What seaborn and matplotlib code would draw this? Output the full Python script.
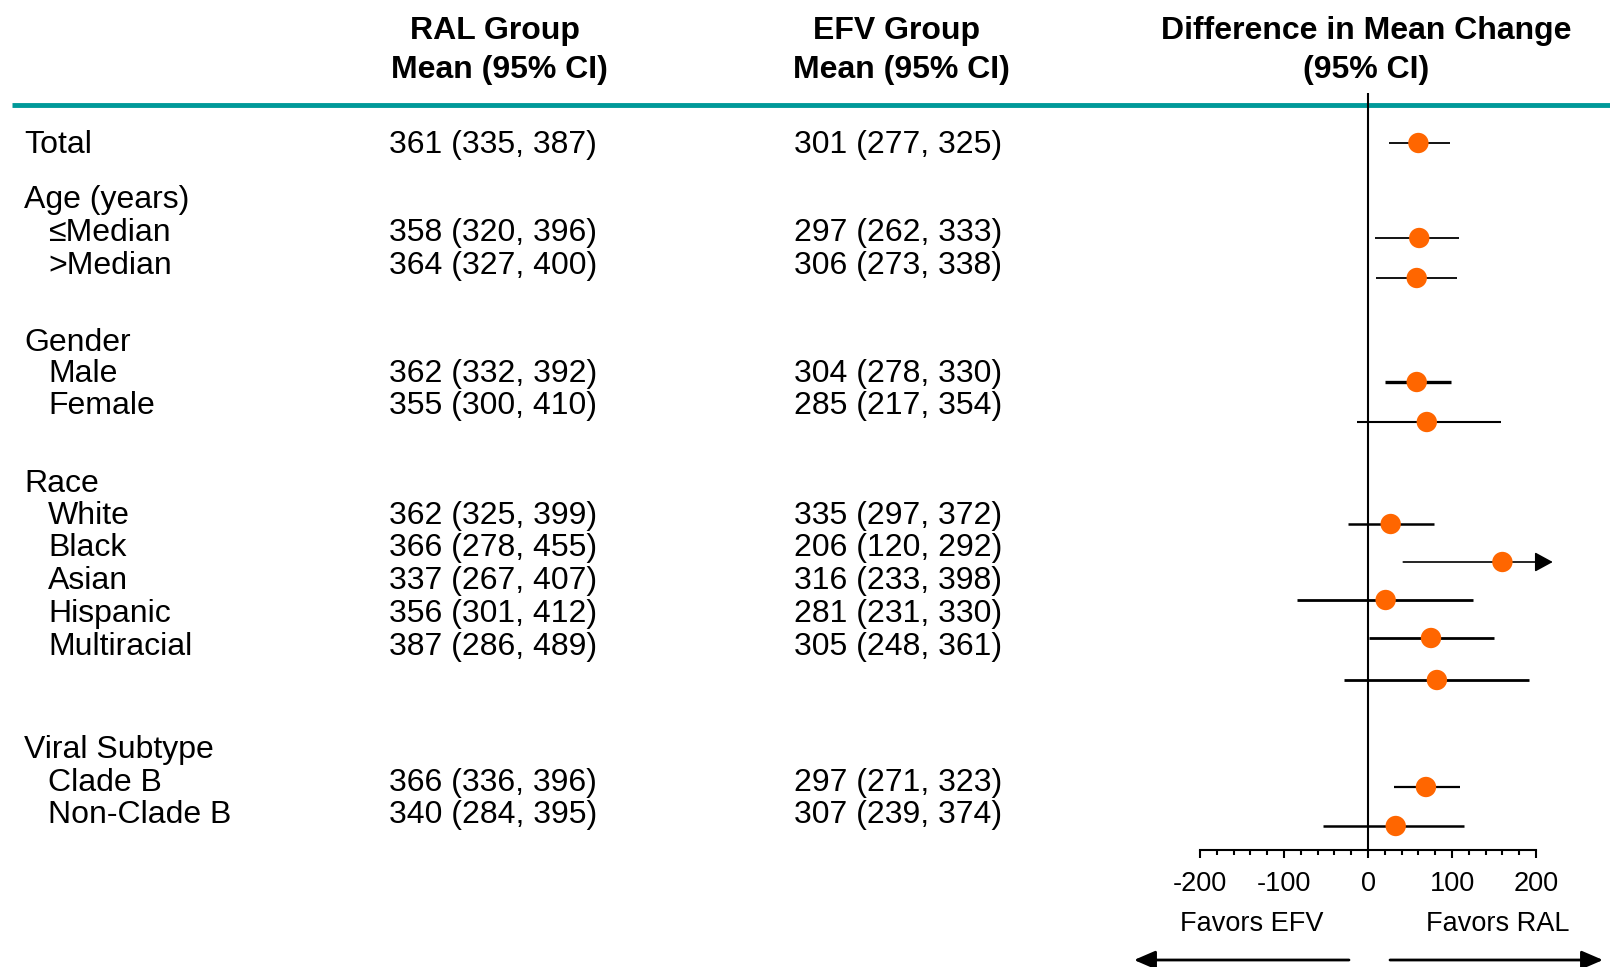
import matplotlib
matplotlib.use("Agg")
import matplotlib.pyplot as plt
import seaborn as sns
import pandas as pd

# ---- data -------------------------------------------------------------
subgroups = ["Total", "\u2264Median", ">Median", "Male", "Female", "White", "Black",
             "Asian", "Hispanic", "Multiracial", "Clade B", "Non-Clade B"]
group_titles = ["Age (years)", "Gender", "Race", "Viral Subtype"]

ral_mean = [361, 358, 364, 362, 355, 362, 366, 337, 356, 387, 366, 340]
ral_lo = [335, 320, 327, 332, 300, 325, 278, 267, 301, 286, 336, 284]
ral_hi = [387, 396, 400, 392, 410, 399, 455, 407, 412, 489, 396, 395]

efv_mean = [301, 297, 306, 304, 285, 335, 206, 316, 281, 305, 297, 307]
efv_lo = [277, 262, 273, 278, 217, 297, 120, 233, 231, 248, 271, 239]
efv_hi = [325, 333, 338, 330, 354, 372, 292, 398, 330, 361, 323, 374]

diff = [60, 61, 58, 58, 70, 27, 160, 21, 75, 82, 69, 33]
diff_lo = [25, 8, 9, 20, -13, -24, 42, -85, 1, -28, 31, -54]
diff_hi = [98, 108, 106, 99, 158, 79, 220, 125, 150, 192, 110, 114]
diff_hi_offscale = [False, False, False, False, False, False, True,
                    False, False, False, False, False]

header_cols = ["RAL Group\nMean (95% CI)", "EFV Group\nMean (95% CI)",
               "Difference in Mean Change\n(95% CI)"]
x_ticks = [-200, -100, 0, 100, 200]
favors = ["Favors EFV", "Favors RAL"]

# ---- layout (figure pixel units) ---------------------------------------
W, H = 1610, 967
text_y = [145, 233, 266, 374, 406, 516, 548, 581, 614, 647, 783, 815]
title_y = [200, 343, 484, 750]
forest_y = [143, 238, 278, 382, 422, 524, 562, 600, 638, 680, 787, 826]
ci_lw = [1.3, 1.3, 1.3, 2.4, 1.5, 1.8, 1.2, 2.0, 2.0, 2.0, 1.6, 1.8]

sns.set_theme(style="white")
plt.rcParams["font.family"] = ["Liberation Sans", "DejaVu Sans"]
plt.rcParams["text.color"] = "black"
plt.rcParams["xtick.color"] = "black"
plt.rcParams["xtick.labelcolor"] = "black"

TEAL = "#009999"
ORANGE = "#FF6600"
BODY = 23
HEAD = 23

fig = plt.figure(figsize=(W / 100, H / 100), dpi=100)
fig.patch.set_facecolor("white")

# text layer in pixel coordinates
ax_t = fig.add_axes([0, 0, 1, 1])
ax_t.set_xlim(0, W)
ax_t.set_ylim(H, 0)
ax_t.axis("off")

# column headers
head_x = [(495, 499), (897, 901), (1366, 1366)]
for txt, (x1, x2) in zip(header_cols, head_x):
    l1, l2 = txt.split("\n")
    ax_t.text(x1, 31, l1, ha="center", va="center", fontsize=HEAD, fontweight="bold")
    ax_t.text(x2, 70, l2, ha="center", va="center", fontsize=HEAD, fontweight="bold")

ax_t.hlines(105, 12, W, color=TEAL, lw=3.5)

# group titles and subgroup rows
for t, y in zip(group_titles, title_y):
    ax_t.text(24, y, t, ha="left", va="center", fontsize=BODY)

for i, (name, y) in enumerate(zip(subgroups, text_y)):
    x0 = 24 if i == 0 else 48
    ax_t.text(x0, y, name, ha="left", va="center", fontsize=BODY)
    ax_t.text(389, y, f"{ral_mean[i]} ({ral_lo[i]}, {ral_hi[i]})",
              ha="left", va="center", fontsize=BODY)
    ax_t.text(794, y, f"{efv_mean[i]} ({efv_lo[i]}, {efv_hi[i]})",
              ha="left", va="center", fontsize=BODY)

# ---- forest plot ------------------------------------------------------
ax_f = fig.add_axes([1200 / W, 0, 336 / W, 1])
ax_f.set_xlim(-200, 200)
ax_f.set_ylim(H, 0)
ax_f.patch.set_alpha(0)
for s in ["top", "right", "left"]:
    ax_f.spines[s].set_visible(False)
ax_f.spines["bottom"].set_position(("data", 850))
ax_f.spines["bottom"].set_linewidth(1.5)
ax_f.spines["bottom"].set_color("black")
ax_f.set_yticks([])
ax_f.set_xticks(x_ticks)
ax_f.set_xticks(range(-200, 201, 20), minor=True)
ax_f.set_xticklabels([str(v) for v in x_ticks])
ax_f.tick_params(axis="x", which="major", direction="out", length=6, width=1.5,
                 labelsize=19.5, pad=9, bottom=True, color="black")
ax_f.tick_params(axis="x", which="minor", direction="out", length=3.5, width=1.5,
                 bottom=True, color="black")

ax_f.vlines(0, 93, 850, color="black", lw=1.5, zorder=2)

df = pd.DataFrame({"diff": diff, "lo": diff_lo, "hi": diff_hi,
                   "y": forest_y, "off": diff_hi_offscale, "lw": ci_lw})
for _, r in df.iterrows():
    if r["off"]:
        ax_f.annotate("", xy=(r["hi"], r["y"]), xytext=(r["lo"], r["y"]),
                      xycoords="data", annotation_clip=False,
                      arrowprops=dict(arrowstyle="-|>,head_length=0.55,head_width=0.3",
                                      lw=r["lw"], color="black", mutation_scale=20,
                                      shrinkA=0, shrinkB=0), zorder=3)
    else:
        ax_f.hlines(r["y"], r["lo"], r["hi"], color="black", lw=r["lw"], zorder=3)

sns.scatterplot(data=df, x="diff", y="y", ax=ax_f, color=ORANGE, s=215,
                edgecolor="none", zorder=4, legend=False, clip_on=False)
ax_f.set_xlabel("")
ax_f.set_ylabel("")
ax_f.set_ylim(H, 0)

# favors labels and direction arrows
ax_t.text(1252, 924, favors[0], ha="center", va="center", fontsize=19.5)
ax_t.text(1498, 924, favors[1], ha="center", va="center", fontsize=19.5)
arrow_style = dict(arrowstyle="-|>,head_length=0.65,head_width=0.28",
                   lw=2, color="black", mutation_scale=20, shrinkA=0, shrinkB=0)
ax_t.annotate("", xy=(1134, 960), xytext=(1349, 960), arrowprops=arrow_style)
ax_t.annotate("", xy=(1603, 960), xytext=(1390, 960), arrowprops=arrow_style)

fig.savefig("out.png", dpi=100)
